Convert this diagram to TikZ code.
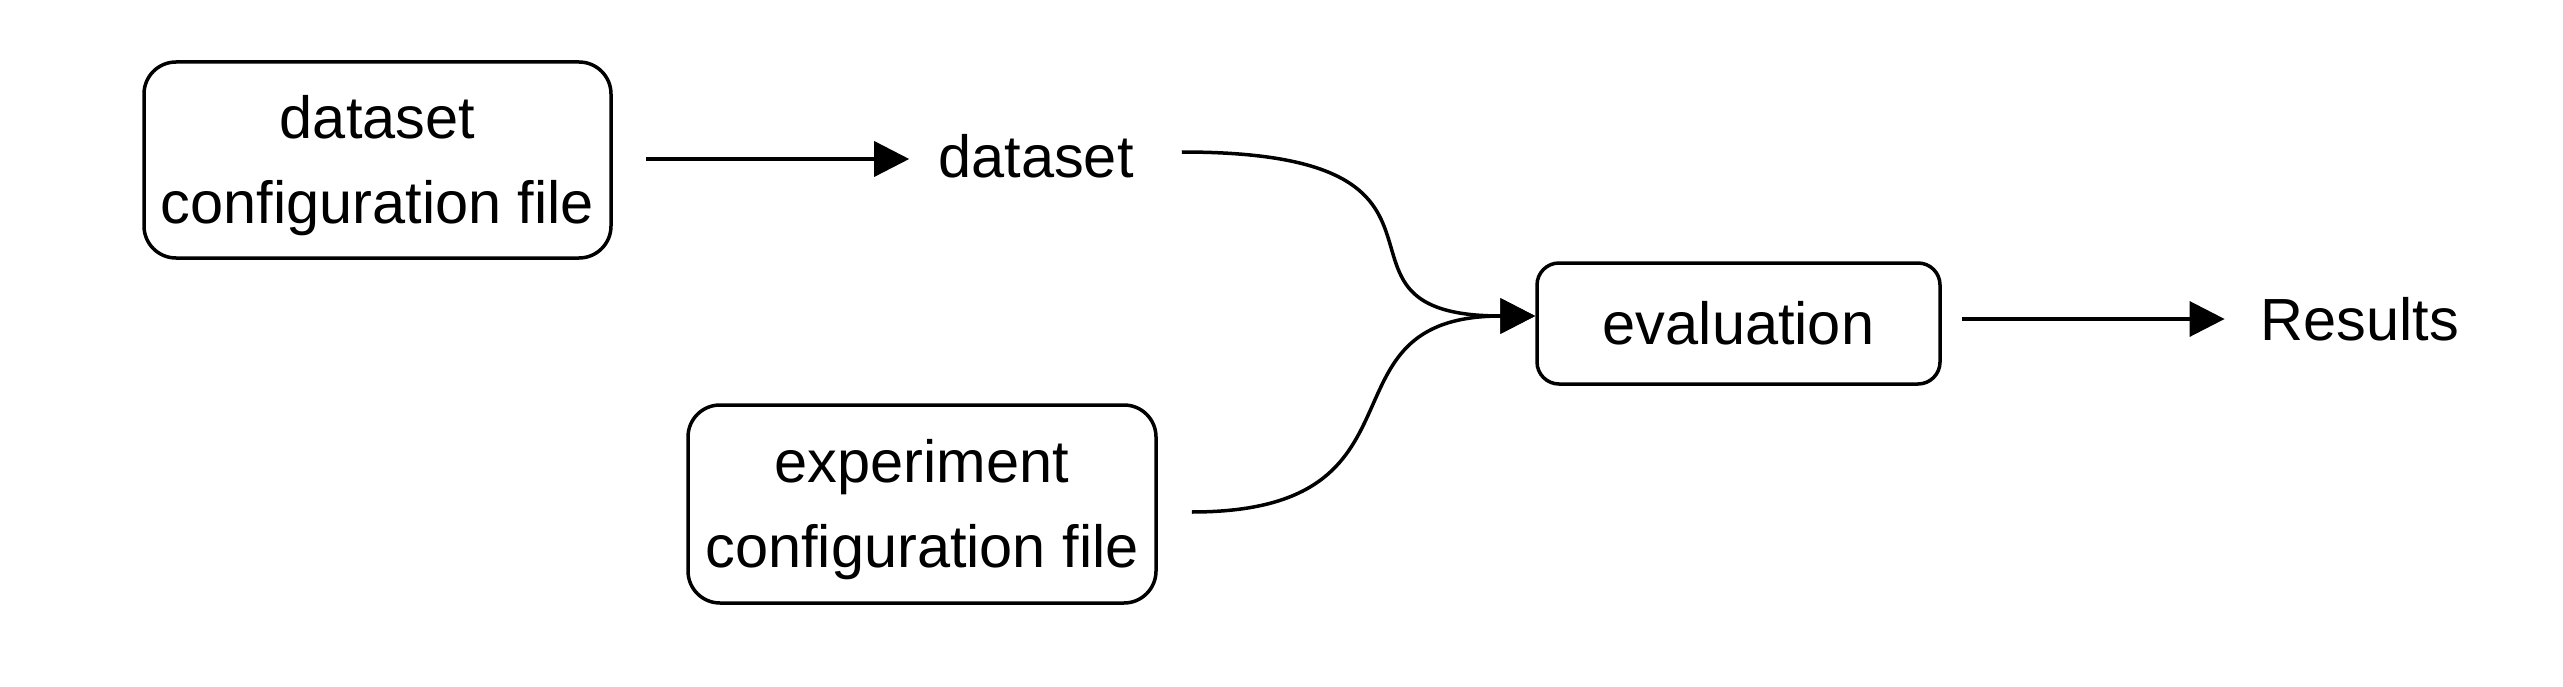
\documentclass[tikz,border=0pt]{standalone}
\usepackage{fontspec}
\setmainfont{Liberation Sans}
\usetikzlibrary{arrows.meta}
\newcommand{\topstrut}{\rule{0pt}{55pt}}
\begin{document}
\begin{tikzpicture}[x=1pt,y=-1pt,
  every node/.style={font=\fontsize{59.5}{85}\selectfont, align=center},
  box/.style={draw, line width=3.5pt, inner sep=0pt},
  lbl/.style={inner ysep=0pt, inner xsep=29pt},
  arr/.style={line width=3.5pt, -{Triangle[length=35pt,width=35pt]}}]
\useasboundingbox (0,0) rectangle (2563,687);
\node[box, rounded corners=32pt, minimum width=467pt, minimum height=196pt] (dcfg) at (377.5,160) {\topstrut dataset\\configuration file};
\node[box, rounded corners=32pt, minimum width=468pt, minimum height=198pt] (ecfg) at (922,504) {\topstrut experiment\\configuration file};
\node[box, rounded corners=22pt, minimum width=403pt, minimum height=121pt] (eval) at (1738.5,323.5) {evaluation};
\node[lbl, text depth=6pt] (data) at (1036,159) {dataset};
\node[lbl, inner xsep=36pt] (res) at (2360,319) {Results};
\draw[arr, shorten <=33pt] (dcfg.east |- data.west) -- (data.west);
\draw[arr, shorten <=19pt] ([yshift=7pt]data.east) .. controls +(344,0) and +(-238,0) .. ([yshift=7.5pt]eval.west);
\draw[arr, shorten <=34pt] ([yshift=-8pt]ecfg.east) .. controls +(284,0) and +(-225,0) .. ([yshift=7.5pt]eval.west);
\draw[arr, shorten <=20pt] (eval.east |- res.west) -- (res.west);
\end{tikzpicture}
\end{document}
